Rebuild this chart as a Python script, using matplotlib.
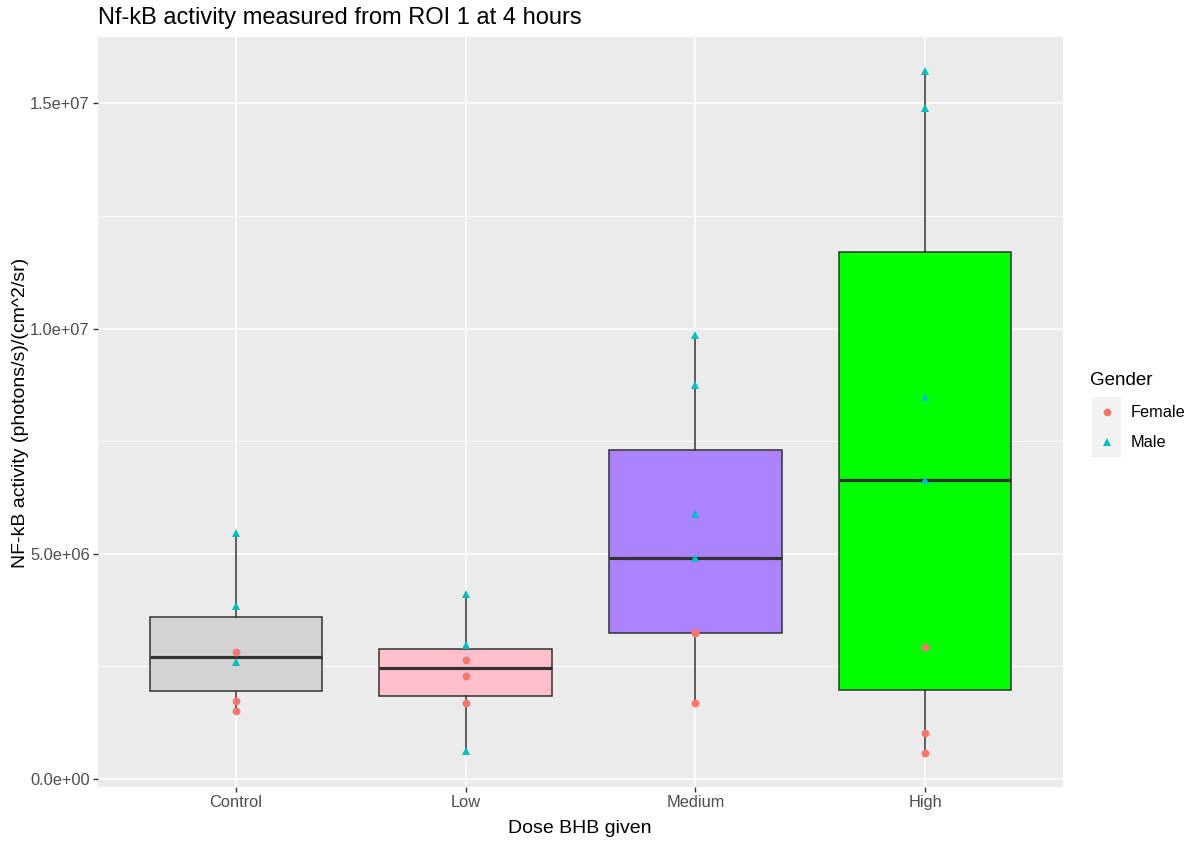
import matplotlib
matplotlib.use("Agg")
import matplotlib.pyplot as plt
from matplotlib.lines import Line2D
from matplotlib.patches import Rectangle
import numpy as np

plt.rcParams['font.family'] = ['Liberation Sans', 'DejaVu Sans']

categories = ["Control", "Low", "Medium", "High"]
box_colors = ["#D3D3D3", "#FFC0CB", "#AB82FF", "#00FF00"]
female_vals = [
    [2.82e6, 1.73e6, 1.51e6],
    [2.64e6, 2.28e6, 1.69e6],
    [3.23e6, 3.25e6, 1.69e6],
    [2.93e6, 1.01e6, 0.57e6],
]
male_vals = [
    [5.46e6, 3.84e6, 2.60e6],
    [4.09e6, 2.96e6, 0.61e6],
    [9.86e6, 8.74e6, 5.87e6, 4.89e6],
    [15.72e6, 14.90e6, 8.48e6, 6.64e6],
]
yticks = [0, 5e6, 1e7, 1.5e7]
ytick_labels = ["0.0e+00", "5.0e+06", "1.0e+07", "1.5e+07"]
female_color = "#F8766D"
male_color = "#00BFC4"

W, H = 1189, 841
fig = plt.figure(figsize=(W / 100, H / 100), dpi=100)
ax = fig.add_axes([98 / W, 1 - 787 / H, (1063 - 98) / W, (787 - 37) / H])
ax.set_facecolor("#EBEBEB")

positions = np.arange(1, len(categories) + 1)
all_data = [f + m for f, m in zip(female_vals, male_vals)]

bp = ax.boxplot(all_data, positions=positions, widths=0.75, whis=1.5,
                showfliers=False, showcaps=False, patch_artist=True,
                zorder=3,
                boxprops=dict(edgecolor="#333333", linewidth=1.1),
                whiskerprops=dict(color="#333333", linewidth=1.1),
                medianprops=dict(color="#333333", linewidth=2.3))
for patch, c in zip(bp['boxes'], box_colors):
    patch.set_facecolor(c)

for i, (f, m) in enumerate(zip(female_vals, male_vals)):
    ax.plot([positions[i]] * len(f), f, 'o', color=female_color, markersize=5.6,
            markeredgewidth=0, zorder=5)
    ax.plot([positions[i]] * len(m), m, '^', color=male_color, markersize=6.3,
            markeredgewidth=0, zorder=5)

# limits like ggplot
all_vals = np.concatenate([np.array(v) for v in all_data])
lo, hi = all_vals.min(), all_vals.max()
rng = hi - lo
ax.set_ylim(lo - 0.05 * rng, hi + 0.05 * rng)
ax.set_xlim(0.4, len(categories) + 0.6)

ax.set_yticks(yticks)
ax.set_yticklabels(ytick_labels)
ax.set_yticks([2.5e6, 7.5e6, 1.25e7], minor=True)
ax.set_xticks(positions)
ax.set_xticklabels(categories)

ax.grid(True, which='major', color='white', linewidth=1.1, zorder=0)
ax.grid(True, which='minor', axis='y', color='white', linewidth=0.55, zorder=0)
ax.set_axisbelow(True)
for s in ax.spines.values():
    s.set_visible(False)

ax.tick_params(axis='both', which='major', length=3.5, width=1.0, color="#333333",
               labelcolor="#4D4D4D", labelsize=11.8, pad=2.5)
ax.tick_params(axis='x', which='major', pad=2)
ax.tick_params(axis='y', which='minor', length=0)

# axis titles
fig.text(580 / W, 1 - 833 / H, "Dose BHB given", fontsize=14, ha='center',
         va='baseline', color='black')
fig.text(25 / W, 1 - 413 / H, "NF-kB activity (photons/s)/(cm^2/sr)", fontsize=14,
         ha='center', va='baseline', rotation=90, rotation_mode='anchor', color='black')

fig.text(98 / W, 1 - 24 / H, "Nf-kB activity measured from ROI 1 at 4 hours",
         fontsize=17, ha='left', va='baseline', color='black')

# legend
fig.text(1090 / W, 1 - 385 / H, "Gender", fontsize=13.5, ha='left', va='baseline')
key_x0, key_w = 1092, 29
key_centers = [412, 442]
for j, (lab, col, mk, ms) in enumerate([("Female", female_color, 'o', 5.6),
                                         ("Male", male_color, '^', 6.3)]):
    yc = key_centers[j]
    fig.patches.append(Rectangle((key_x0 / W, 1 - (yc + 15) / H), key_w / W, 30 / H,
                                 transform=fig.transFigure, facecolor="#F2F2F2",
                                 edgecolor='none', zorder=1))
    fig.lines.append(Line2D([(key_x0 + key_w / 2) / W], [1 - yc / H], marker=mk,
                            color=col, markersize=ms, markeredgewidth=0,
                            linestyle='none', transform=fig.transFigure, zorder=2))
    fig.text(1131 / W, 1 - (yc + 5) / H, lab, fontsize=11.7, ha='left', va='baseline',
             color='black')

fig.savefig("out.png", dpi=100)
